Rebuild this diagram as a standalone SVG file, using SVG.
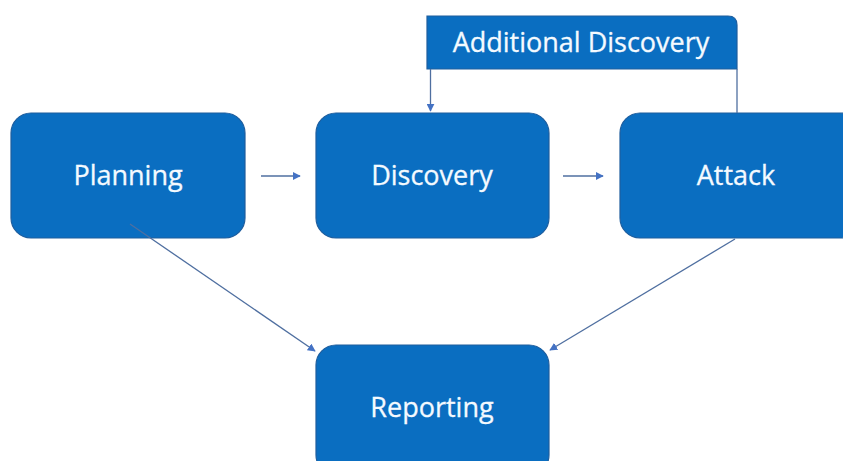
<svg xmlns="http://www.w3.org/2000/svg" width="843" height="461" viewBox="0 0 843 461">
<style>
.box{fill:#0A6EC1;stroke:#1F5E9E;stroke-width:1.2}
.lbl{fill:#F4FAFF;font-family:"Open Sans","Liberation Sans",sans-serif;font-size:27px;text-anchor:middle;stroke:#F4FAFF;stroke-width:0.3}
.con{stroke:#4F6FA0;stroke-width:1.3;fill:none}
</style>
<defs>
<marker id="ah" viewBox="0 0 10 10" refX="9" refY="5" markerWidth="8" markerHeight="8" markerUnits="userSpaceOnUse" orient="auto">
<path d="M0,0 L10,5 L0,10 z" fill="#4472C4"/>
</marker>
</defs>
<rect width="843" height="461" fill="#FFFFFF"/>
<g id="additional-discovery">
<path class="box" d="M427,16 H728 Q737,16 737,25 V69 H427 Z"/>
<text class="lbl" x="581" y="52">Additional Discovery</text>
</g>
<g id="planning">
<rect class="box" x="11" y="113" width="234" height="125" rx="20"/>
<text class="lbl" x="128" y="185">Planning</text>
</g>
<g id="discovery">
<rect class="box" x="316" y="113" width="233" height="125" rx="20"/>
<text class="lbl" x="432" y="185">Discovery</text>
</g>
<g id="attack">
<rect class="box" x="620" y="113" width="240" height="125" rx="20"/>
<text class="lbl" x="736" y="185">Attack</text>
</g>
<g id="reporting">
<rect class="box" x="316" y="345" width="233" height="130" rx="20"/>
<text class="lbl" x="432" y="417">Reporting</text>
</g>
<g id="connectors">
<line class="con" x1="261" y1="176" x2="300" y2="176" marker-end="url(#ah)"/>
<line class="con" x1="563" y1="176" x2="603" y2="176" marker-end="url(#ah)"/>
<line class="con" x1="430.5" y1="69" x2="430.5" y2="111" marker-end="url(#ah)"/>
<line class="con" x1="737" y1="69" x2="737" y2="113"/>
<line class="con" x1="130" y1="224" x2="315" y2="351" marker-end="url(#ah)"/>
<line class="con" x1="735" y1="239" x2="550" y2="350" marker-end="url(#ah)"/>
</g>
</svg>
